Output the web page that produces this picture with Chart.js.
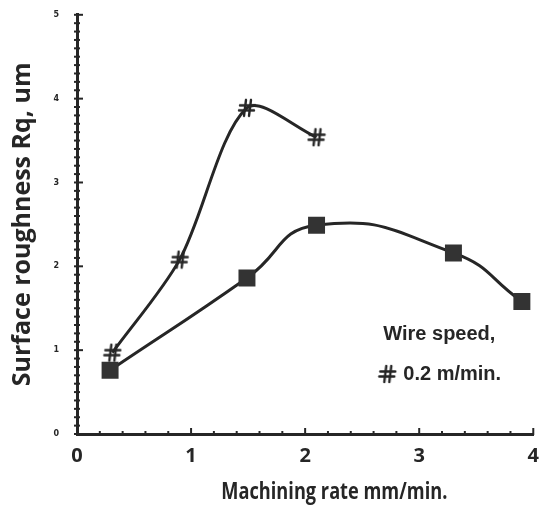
<!DOCTYPE html>
<html><head><meta charset="utf-8">
<script src="https://cdn.jsdelivr.net/npm/chart.js@4/dist/chart.umd.min.js"></script>
<style>html,body{margin:0;padding:0;background:#fff}#wrap{width:541px;height:510px}</style>
</head><body><div id="wrap"><canvas id="c" width="541" height="510"></canvas></div>
<script>
const xTickLabels = ['0','1','2','3','4'];
const yTickLabels = ['0','1','2','3','4','5'];
const legendTitle = 'Wire speed,';
const seriesLabel = '0.2 m/min.';
const xTitle = 'Machining rate mm/min.';
const yTitle = 'Surface roughness Rq, um';
const hashX = [0.31, 0.90, 1.49, 2.10];
const hashY = [0.97, 2.08, 3.89, 3.54];
const squareX = [0.29, 1.49, 2.10, 3.30, 3.90];
const squareY = [0.76, 1.86, 2.49, 2.16, 1.58];

const INK = '#262626';
function makeHash(){
  const s = 20, c = document.createElement('canvas');
  c.width = s; c.height = s;
  const g = c.getContext('2d');
  g.strokeStyle = INK; g.lineWidth = 2.4; g.lineCap = 'round';
  g.beginPath();
  g.moveTo(9,2); g.lineTo(7,18);
  g.moveTo(14,2); g.lineTo(12,18);
  g.moveTo(3,7.5); g.lineTo(18,7.5);
  g.moveTo(2,12.5); g.lineTo(17,12.5);
  g.stroke();
  return c;
}
const hashImg = makeHash();

const decor = {
  id: 'decor',
  afterDraw(chart){
    const {ctx, scales:{x, y}, chartArea:a} = chart;
    ctx.save();
    ctx.strokeStyle = INK; ctx.lineWidth = 2;
    for (let i = 0; i <= 50; i++){
      const py = y.getPixelForValue(i/10), major = i % 10 === 0;
      ctx.beginPath(); ctx.moveTo(a.left - 3, py); ctx.lineTo(a.left + (major ? 6 : 3), py); ctx.stroke();
    }
    for (let i = 0; i <= 20; i++){
      const px = x.getPixelForValue(i/5), major = i % 5 === 0;
      ctx.beginPath(); ctx.moveTo(px, a.bottom + 1); ctx.lineTo(px, a.bottom - (major ? 6 : 3)); ctx.stroke();
    }
    ctx.fillStyle = INK;
    ctx.textBaseline = 'middle';
    ctx.textAlign = 'center';
    ctx.font = 'bold 23px "Open Sans"';
    ctx.fillText(xTitle, a.left + a.width * 0.564, a.bottom + 58, 226);
    ctx.textAlign = 'left';
    ctx.font = 'bold 20px "Liberation Sans"';
    ctx.fillText(legendTitle, a.right - 150, a.bottom - 100, 114);
    ctx.drawImage(hashImg, a.right - 156, a.bottom - 70);
    ctx.fillText(seriesLabel, a.right - 130, a.bottom - 60, 106);
    ctx.restore();
  }
};

new Chart(document.getElementById('c'), {
  type: 'line',
  data: {
    datasets: [
      { label: seriesLabel, data: hashX.map((v,i)=>({x:v, y:hashY[i]})),
        borderColor: INK, borderWidth: 3, tension: 0.3, fill: false,
        pointStyle: hashImg, pointRadius: 9 },
      { label: 'rect', data: squareX.map((v,i)=>({x:v, y:squareY[i]})),
        borderColor: INK, borderWidth: 3, tension: 0.5, fill: false,
        pointStyle: 'rect', pointRadius: 12, pointBackgroundColor: '#333', pointBorderColor: '#333', pointBorderWidth: 0 }
    ]
  },
  options: {
    responsive: false, animation: false,
    layout: { autoPadding: false, padding: { top: 11, right: 0, left: 0, bottom: 0 } },
    plugins: { legend: { display: false }, tooltip: { enabled: false } },
    scales: {
      x: { type: 'linear', min: 0, max: 4,
        afterFit(s){ s.height = 76; },
        grid: { display: false },
        border: { display: true, color: INK, width: 3 },
        ticks: { stepSize: 1, padding: 2, color: INK, font: { family: 'Open Sans', size: 20, weight: 'bold' },
          callback: (v) => xTickLabels[v] ?? '' } },
      y: { type: 'linear', min: 0, max: 5,
        afterFit(s){ s.width = 77; },
        grid: { display: false },
        border: { display: true, color: INK, width: 3 },
        ticks: { stepSize: 1, padding: 10, color: INK, font: { family: 'DejaVu Sans', size: 8, weight: 'bold' },
          callback: (v) => yTickLabels[v] ?? '' },
        title: { display: true, text: yTitle, color: INK, padding: { top: 8, bottom: 0 },
          font: { family: 'Open Sans', size: 25, weight: 'bold' } } }
    }
  },
  plugins: [decor]
});
</script></body></html>
